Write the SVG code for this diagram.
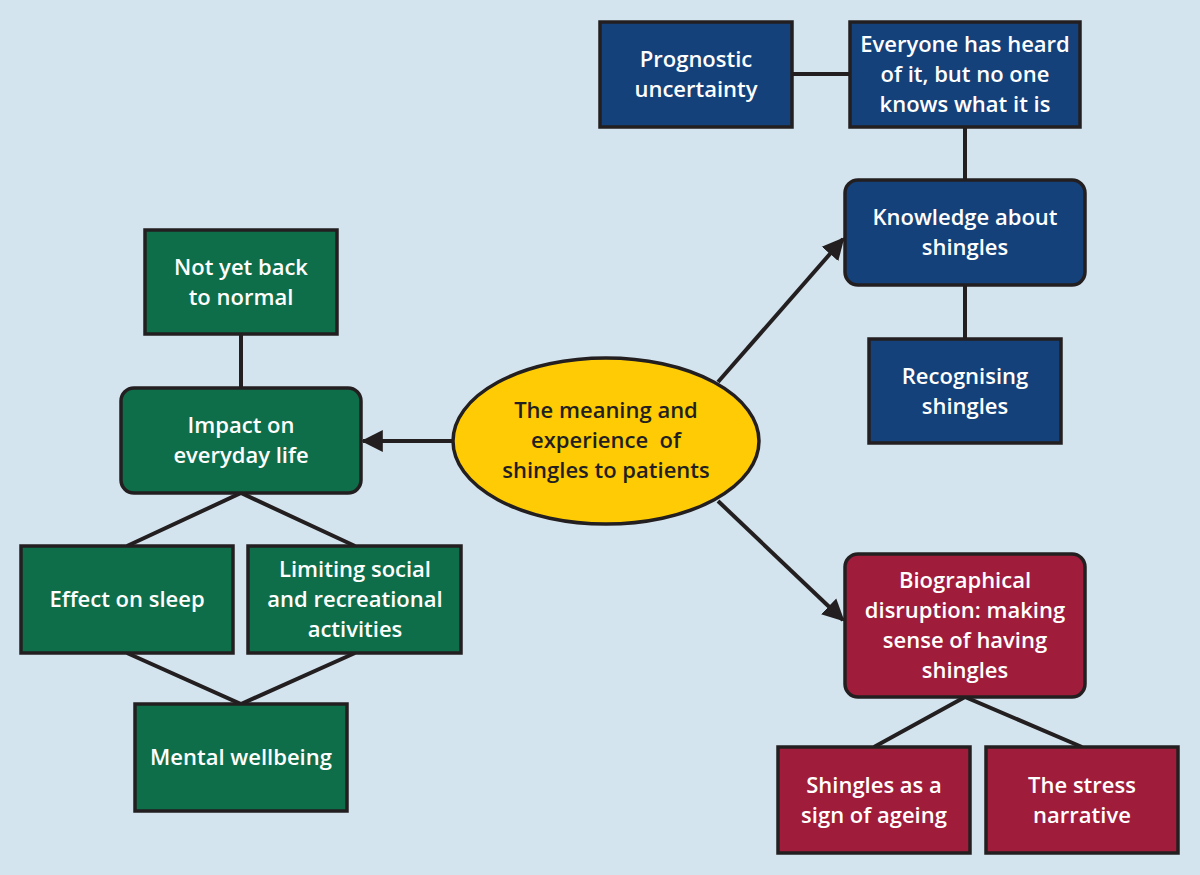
<svg xmlns="http://www.w3.org/2000/svg" width="1200" height="875" viewBox="0 0 1200 875">
<defs>
<style>
.bg{fill:#d4e4ee}
.n{stroke:#231f20;stroke-width:3.5}
.g{fill:#0e6e4a}
.b{fill:#15417a}
.r{fill:#a01c3b}
.y{fill:#fecb05}
.t{font-family:"Open Sans","Liberation Sans",sans-serif;font-weight:600;font-size:22px;fill:#ffffff;text-anchor:middle}
.tk{fill:#231f20}
.c{stroke:#231f20;stroke-width:4;fill:none}
</style>
<marker id="ah" viewBox="0 0 10 10" refX="9" refY="5" markerWidth="5.5" markerHeight="6" orient="auto" markerUnits="strokeWidth">
<path d="M0,0 L10,5 L0,10 z" fill="#231f20"/>
</marker>
</defs>
<rect class="bg" x="0" y="0" width="1200" height="875"/>
<g id="connectors">
<line class="c" x1="792" y1="74" x2="850" y2="74"/>
<line class="c" x1="965" y1="127" x2="965" y2="180"/>
<line class="c" x1="965" y1="285" x2="965" y2="339"/>
<line class="c" x1="241" y1="334" x2="241" y2="388"/>
<polyline class="c" points="127,546 241,493 355,546"/>
<polyline class="c" points="127,653 241,704 355,653"/>
<polyline class="c" points="874,747 965,697 1082,747"/>
<line class="c" x1="453" y1="441" x2="363" y2="441" marker-end="url(#ah)"/>
<line class="c" x1="718" y1="382" x2="843" y2="239" marker-end="url(#ah)"/>
<line class="c" x1="718" y1="501" x2="843" y2="620" marker-end="url(#ah)"/>
</g>
<g id="center">
<ellipse class="n y" cx="606" cy="441" rx="153" ry="83"/>
<text class="t tk" x="606" y="418">The meaning and</text>
<text class="t tk" x="606" y="448" xml:space="preserve">experience  of</text>
<text class="t tk" x="606" y="478">shingles to patients</text>
</g>
<g id="prognostic">
<rect class="n b" x="600" y="22" width="192" height="105"/>
<text class="t" x="696" y="67">Prognostic</text>
<text class="t" x="696" y="97">uncertainty</text>
</g>
<g id="everyone">
<rect class="n b" x="850" y="22" width="230" height="105"/>
<text class="t" x="965" y="52">Everyone has heard</text>
<text class="t" x="965" y="82">of it, but no one</text>
<text class="t" x="965" y="112">knows what it is</text>
</g>
<g id="knowledge">
<rect class="n b" x="845" y="180" width="240" height="105" rx="13"/>
<text class="t" x="965" y="225">Knowledge about</text>
<text class="t" x="965" y="255">shingles</text>
</g>
<g id="recognising">
<rect class="n b" x="869" y="339" width="192" height="104"/>
<text class="t" x="965" y="384">Recognising</text>
<text class="t" x="965" y="414">shingles</text>
</g>
<g id="notyet">
<rect class="n g" x="145" y="230" width="192" height="104"/>
<text class="t" x="241" y="275">Not yet back</text>
<text class="t" x="241" y="305">to normal</text>
</g>
<g id="impact">
<rect class="n g" x="121" y="388" width="240" height="105" rx="13"/>
<text class="t" x="241" y="433">Impact on</text>
<text class="t" x="241" y="463">everyday life</text>
</g>
<g id="sleep">
<rect class="n g" x="21" y="546" width="212" height="107"/>
<text class="t" x="127" y="607">Effect on sleep</text>
</g>
<g id="limiting">
<rect class="n g" x="248" y="546" width="213" height="107"/>
<text class="t" x="355" y="577">Limiting social</text>
<text class="t" x="355" y="607">and recreational</text>
<text class="t" x="355" y="637">activities</text>
</g>
<g id="mental">
<rect class="n g" x="135" y="704" width="212" height="107"/>
<text class="t" x="241" y="765">Mental wellbeing</text>
</g>
<g id="biographical">
<rect class="n r" x="845" y="554" width="240" height="143" rx="13"/>
<text class="t" x="965" y="588">Biographical</text>
<text class="t" x="965" y="618">disruption: making</text>
<text class="t" x="965" y="648">sense of having</text>
<text class="t" x="965" y="678">shingles</text>
</g>
<g id="ageing">
<rect class="n r" x="778" y="747" width="192" height="106"/>
<text class="t" x="874" y="793">Shingles as a</text>
<text class="t" x="874" y="823">sign of ageing</text>
</g>
<g id="stress">
<rect class="n r" x="986" y="747" width="192" height="106"/>
<text class="t" x="1082" y="793">The stress</text>
<text class="t" x="1082" y="823">narrative</text>
</g>
</svg>
